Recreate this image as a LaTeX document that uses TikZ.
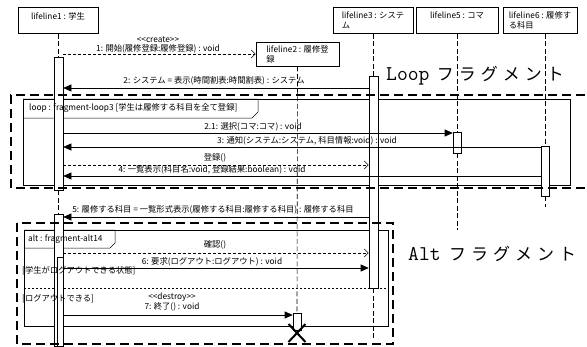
\documentclass[tikz,border=0pt]{standalone}
\usepackage{fontspec}
\setmainfont{Noto Sans CJK JP}
\usetikzlibrary{arrows.meta,calc,shapes.misc}
\newcommand\spk[1]{\makebox[22pt]{#1}}
\newcommand\lt{<\kern0pt<}
\newcommand\gt{>\kern0pt>}
\begin{document}
\begin{tikzpicture}[x=1pt,y=-1pt,
  lbl/.style={font=\fontsize{8.3}{9.5}\selectfont, inner sep=0pt},
  head/.style={draw, line width=0.6pt, fill=white, align=left, font=\fontsize{8.3}{10}\selectfont, inner sep=1pt},
  life/.style={line width=0.6pt, dash pattern=on 5pt off 2.5pt},
  act/.style={draw, line width=0.6pt, fill=white, inner sep=0pt},
  msg/.style={line width=0.6pt, -{Triangle[length=8pt,width=7pt]}},
  ret/.style={line width=0.6pt, dash pattern=on 3pt off 2pt, -{Straight Barb[length=4pt,width=8pt]}},
  frm/.style={draw, line width=0.5pt},
  sep/.style={line width=0.5pt, dash pattern=on 2pt off 2pt},
  bold/.style={line width=2pt, dash pattern=on 9pt off 5pt},
  big/.style={font=\fontsize{17}{20}\selectfont, inner sep=0pt, anchor=base west},
]
\useasboundingbox (0,0) rectangle (587,346);

% lifeline heads
\node[head, minimum width=80pt, minimum height=26pt] (B1) at (58,20.5) {lifeline1 : 学生\\\mbox{}};
\node[head, minimum width=83pt, minimum height=24pt] (B2) at (297.5,54) {lifeline2 : 履修登\\録};
\node[head, minimum width=80pt, minimum height=26pt] (B3) at (373,20.5) {lifeline3 : システ\\ム};
\node[head, minimum width=82pt, minimum height=26pt] (B5) at (457,20.5) {lifeline5 : コマ\\\mbox{}};
\node[head, minimum width=74pt, minimum height=26pt] (B6) at (540,20.5) {lifeline6 : 履修す\\る科目};

% ends of lifelines
\coordinate (e3) at (373.5,340);
\coordinate (e5) at (457,230);
\coordinate (e6) at (545,207);

% loop frame
\draw[frm] (23,99) rectangle (570,185);
\draw[frm] (23,99) -- (258,99) -- (258,112) -- (252,118) -- (23,118);

% alt frame
\draw[frm] (24,230) rectangle (388,326);
\draw[frm] (24,230) -- (115,230) -- (115,243) -- (110,248) -- (24,248);
\coordinate (s1) at (24,288);
\coordinate (s2) at (388,288);
\draw[sep] (s1) -- (s2);

% activations (nodes)
\node[act, minimum width=9pt, minimum height=133pt] (A1a) at (58.5,123.5) {};
\node[act, minimum width=9pt, minimum height=132pt] (A1b) at (58.5,280) {};
\node[act, minimum width=6pt, minimum height=89pt] (A1c) at (60,301.5) {};
\node[act, minimum width=8pt, minimum height=17pt] (A2) at (297,321.5) {};
\node[act, minimum width=9pt, minimum height=212pt] (A3) at (373.5,182) {};
\node[act, minimum width=8pt, minimum height=21pt] (A5) at (457,142.5) {};
\node[act, minimum width=8pt, minimum height=50pt] (A6) at (545,171) {};
\node[draw, cross out, line width=2pt, minimum width=15pt, minimum height=16pt, inner sep=0pt] (X) at (297,333) {};

% lifelines
\draw[life] (B1.south -| A1a.north) -- (A1a.north);
\draw[life] (A1a.south) -- (A1b.north);
\draw[life] (B2.south) -- (A2.north);
\draw[life] (A2.south) -- (X.center);
\draw[life] (B3.south -| A3.north) -- (A3.north);
\draw[life] (A3.south) -- (e3);
\draw[life] (B5.south) -- (A5.north);
\draw[life] (A5.south) -- (e5);
\draw[life] (B6.south -| A6.north) -- (A6.north);
\draw[life] (A6.south) -- (e6);

% frame labels
\node[lbl, anchor=west] (tl) at (29,108.5) {loop : fragment-loop3 [学生は履修する科目を全て登録]};
\node[lbl, anchor=west] (ta) at (28,239) {alt : fragment-alt14};

% message 1 (create)
\coordinate (c1) at (A1a.east |- B2.west);
\draw[ret] (c1) -- (B2.west);
\node[lbl] (t1a) at (158,40) {\lt create\gt};
\node[lbl] (t1b) at (158,49) {1: 開始(履修登録:履修登録) : void};

% message 2
\coordinate (m2a) at (A3.west |- 0,88);
\coordinate (m2b) at (A1a.east |- 0,88);
\draw[msg] (m2a) -- (m2b);
\node[lbl] (t2) at (214,81) {2: システム = 表示(時間割表:時間割表) : システム};

% message 2.1
\coordinate (m21a) at (A1a.east |- 0,133);
\coordinate (m21b) at (A5.west |- 0,133);
\draw[msg] (m21a) -- (m21b);
\node[lbl] (t21) at (253,127) {2.1: 選択(コマ:コマ) : void};

% message 3
\coordinate (m3a) at (A6.west |- 0,147);
\coordinate (m3b) at (A1a.east |- 0,147);
\draw[msg] (m3a) -- (m3b);
\node[lbl] (t3) at (307,141) {3: 通知(システム:システム, 科目情報:void) : void};

% message 4
\node[lbl] (t4a) at (215,157.5) {登録()};
\coordinate (m4a) at (A1a.east |- 0,165);
\coordinate (m4b) at (A3.west |- 0,165);
\draw[ret] (m4a) -- (m4b);
\node[lbl] (t4b) at (212,170) {4: 一覧表示(科目名:void, 登録結果:boolean) : void};
\coordinate (m4c) at (A6.west |- 0,176);
\coordinate (m4d) at (A1a.east |- 0,176);
\draw[msg] (m4c) -- (m4d);

% message 5
\coordinate (m5a) at (A3.west |- 0,217);
\coordinate (m5b) at (A1b.east |- 0,217);
\draw[msg] (m5a) -- (m5b);
\node[lbl] (t5) at (213,209.5) {5: 履修する科目 = 一覧形式表示(履修する科目:履修する科目) : 履修する科目};

% alt messages
\node[lbl] (t6a) at (215,245) {確認()};
\coordinate (m6a) at (A1b.east |- 0,253);
\coordinate (m6b) at (A3.west |- 0,253);
\draw[ret] (m6a) -- (m6b);
\node[lbl] (t6b) at (212,262) {6: 要求(ログアウト:ログアウト) : void};
\coordinate (m6c) at (A1c.east |- 0,268);
\coordinate (m6d) at (A3.west |- 0,268);
\draw[msg] (m6c) -- (m6d);
\node[lbl, anchor=west] (g1) at (22,271) {[学生がログアウトできる状態]};
\node[lbl, anchor=west] (g2) at (22,299) {[ログアウトできる]};
\node[lbl] (t7a) at (172,297) {\lt destroy\gt};
\node[lbl] (t7b) at (172,307) {7: 終了() : void};
\coordinate (m7a) at (A1c.east |- 0,315);
\draw[msg] (m7a) -- (A2.west |- m7a);

% bold dashed fragments
\coordinate (b1) at (585,95);
\coordinate (b2) at (11,95);
\coordinate (b3) at (11,188);
\coordinate (b4) at (587,188);
\draw[bold] (b1) -- (b2) -- (b3) -- (b4);
\coordinate (b5) at (17,223);
\coordinate (b6) at (393,344);
\draw[bold] (b5) rectangle (b6);

\node[big] (LoopL) at (386,80) {{\ttfamily\fontsize{21}{22}\selectfont Loop}\hspace{5pt}\spk{フ}\spk{ラ}\spk{グ}\spk{メ}\spk{ン}\spk{ト}};
\node[big] (AltL) at (408,260) {{\ttfamily\fontsize{21}{22}\selectfont Alt}\hspace{6pt}\spk{フ}\spk{ラ}\spk{グ}\spk{メ}\spk{ン}\spk{ト}};
\end{tikzpicture}
\end{document}
